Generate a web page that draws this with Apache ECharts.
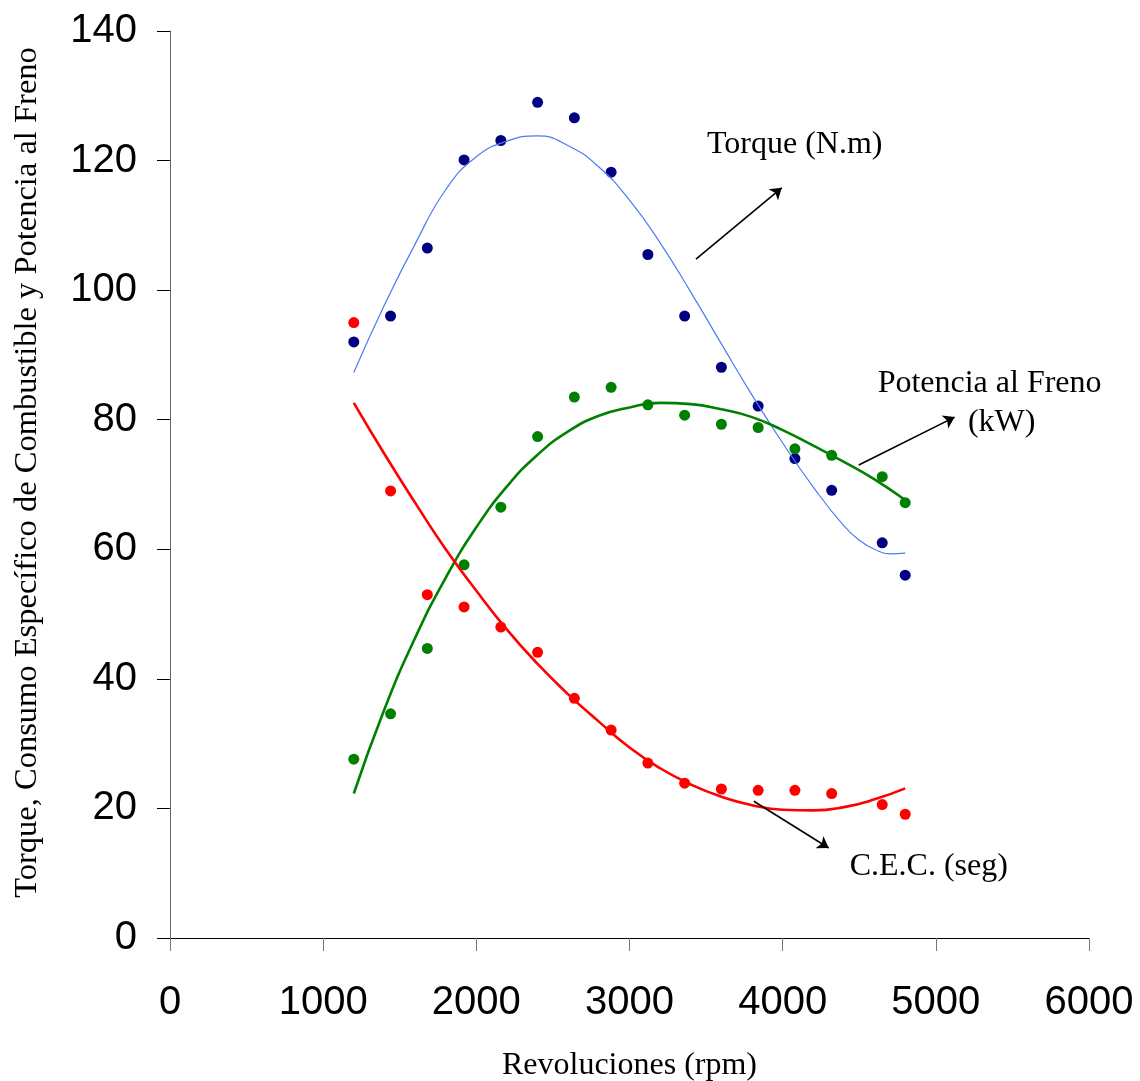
<!DOCTYPE html>
<html>
<head>
<meta charset="utf-8">
<script src="https://cdn.jsdelivr.net/npm/echarts@6/dist/echarts.min.js"></script>
<style>
  html, body { margin: 0; padding: 0; background: #fff; }
  #chart { width: 1140px; height: 1081px; }
</style>
</head>
<body>
<div id="chart"></div>
<script>
// datos medidos (rpm)
const rpm = [1200, 1440, 1680, 1920, 2160, 2400, 2640, 2880, 3120, 3360, 3600, 3840, 4080, 4320, 4650, 4800];
const torque = [92.0, 96.0, 106.5, 120.1, 123.1, 129.0, 126.6, 118.2, 105.5, 96.0, 88.1, 82.1, 74.0, 69.1, 61.0, 56.0];
const potencia = [27.6, 34.6, 44.7, 57.6, 66.5, 77.4, 83.5, 85.0, 82.3, 80.7, 79.3, 78.8, 75.5, 74.5, 71.2, 67.2];
const cec = [95.0, 69.0, 53.0, 51.1, 48.0, 44.1, 37.0, 32.1, 27.0, 23.9, 23.0, 22.8, 22.8, 22.3, 20.6, 19.1];

// lineas de tendencia
const trendRpm = [1200, 1400, 1600, 1800, 2000, 2200, 2400, 2600, 2800, 3000, 3200, 3400, 3600, 3800, 4000, 4200, 4400, 4600, 4800];
const potenciaTrend = [22.3, 35.3, 46.3, 55.6, 63.4, 69.7, 74.6, 78.2, 80.6, 81.9, 82.6, 82.4, 81.6, 80.4, 78.4, 76.0, 73.5, 70.8, 67.6];
const cecTrend = [82.6, 74.7, 67.2, 60.0, 53.6, 47.6, 42.3, 37.6, 33.4, 29.4, 26.2, 23.7, 21.8, 20.5, 19.8, 19.7, 20.2, 21.4, 23.1];
const torqueRpm = [1200, 1400, 1600, 1800, 2000, 2200, 2400, 2600, 2800, 3000, 3200, 3400, 3600, 3800, 4000, 4200, 4400, 4500, 4600, 4700, 4800];
const torqueTrend = [87.3, 97.7, 107.1, 115.5, 120.6, 123.0, 123.8, 122.3, 119.0, 113.9, 107.3, 99.7, 91.7, 83.8, 76.4, 69.6, 63.6, 61.4, 60.0, 59.3, 59.4];

// anotaciones
const notes = [
  { name: 'Torque (N.m)', value: [4079, 122.4] },
  { name: 'Potencia al Freno', value: [5351, 85.5] },
  { name: '(kW)', value: [5430, 79.6] },
  { name: 'C.E.C. (seg)', value: [4954, 11.0] }
];
const arrows = [
  [[3434, 104.8], [3994, 115.8]],
  [[4497, 73.0], [5123, 80.4]],
  [[3812, 21.1], [4301, 13.9]]
];

const pairs = (xs, ys) => xs.map((x, i) => [x, ys[i]]);

let myChart = echarts.init(document.getElementById('chart'));

const serif = 'Liberation Serif';
const sans = 'Liberation Sans';

const options = {
  animation: false,
  grid: {
    left: 170,
    right: 51,
    top: 31,
    bottom: 143,
    containLabel: false,
    outerBoundsMode: 'none'
  },
  xAxis: {
    type: 'value',
    min: 0,
    max: 6000,
    interval: 1000,
    name: 'Revoluciones (rpm)',
    nameLocation: 'middle',
    nameGap: 112,
    nameTextStyle: { fontFamily: serif, fontSize: 32, color: '#000' },
    axisLine: { show: true, lineStyle: { color: '#000', width: 1 } },
    axisTick: { show: true, length: 13, lineStyle: { color: '#777' } },
    axisLabel: { margin: 45, fontFamily: sans, fontSize: 40, color: '#000', formatter: v => String(v) },
    splitLine: { show: false }
  },
  yAxis: {
    type: 'value',
    min: 0,
    max: 140,
    interval: 20,
    name: 'Torque, Consumo Específico de Combustible y Potencia al Freno',
    nameLocation: 'middle',
    nameGap: 126,
    nameTextStyle: { fontFamily: serif, fontSize: 32.5, color: '#000', padding: [0, 0, 0, 24] },
    axisLine: { show: true, lineStyle: { color: '#666', width: 1 } },
    axisTick: { show: true, length: 13, lineStyle: { color: '#000' } },
    axisLabel: { margin: 33, fontFamily: sans, fontSize: 40, color: '#000', formatter: v => String(v) },
    splitLine: { show: false }
  },
  series: [
    {
      name: 'Torque',
      type: 'scatter',
      data: pairs(rpm, torque),
      symbolSize: 11,
      itemStyle: { color: '#000080', opacity: 1 },
      z: 2
    },
    {
      name: 'Potencia',
      type: 'scatter',
      data: pairs(rpm, potencia),
      symbolSize: 11,
      itemStyle: { color: '#008000', opacity: 1 },
      z: 2
    },
    {
      name: 'C.E.C.',
      type: 'scatter',
      data: pairs(rpm, cec),
      symbolSize: 11,
      itemStyle: { color: '#FF0000', opacity: 1 },
      z: 2
    },
    {
      name: 'Torque tendencia',
      type: 'line',
      data: pairs(torqueRpm, torqueTrend),
      smooth: 0.5,
      showSymbol: false,
      lineStyle: { color: '#4a7bf2', width: 1.2 },
      z: 3
    },
    {
      name: 'Potencia tendencia',
      type: 'line',
      data: pairs(trendRpm, potenciaTrend),
      smooth: 0.5,
      showSymbol: false,
      lineStyle: { color: '#008000', width: 2.6 },
      z: 3
    },
    {
      name: 'C.E.C. tendencia',
      type: 'line',
      data: pairs(trendRpm, cecTrend),
      smooth: 0.5,
      showSymbol: false,
      lineStyle: { color: '#FF0000', width: 2.6 },
      z: 3
    },
    {
      name: 'anotaciones',
      type: 'scatter',
      data: notes,
      symbolSize: 0,
      silent: true,
      itemStyle: { opacity: 1 },
      label: {
        show: true,
        position: 'inside',
        formatter: p => p.name,
        fontFamily: serif,
        fontSize: 32,
        color: '#000'
      },
      markLine: {
        silent: true,
        symbol: ['none', 'arrow'],
        symbolSize: 11,
        label: { show: false },
        lineStyle: { color: '#000', width: 1.6, type: 'solid', opacity: 1 },
        data: arrows.map(a => [{ coord: a[0] }, { coord: a[1] }])
      },
      z: 4
    }
  ]
};

myChart.setOption(options);
</script>
</body>
</html>
